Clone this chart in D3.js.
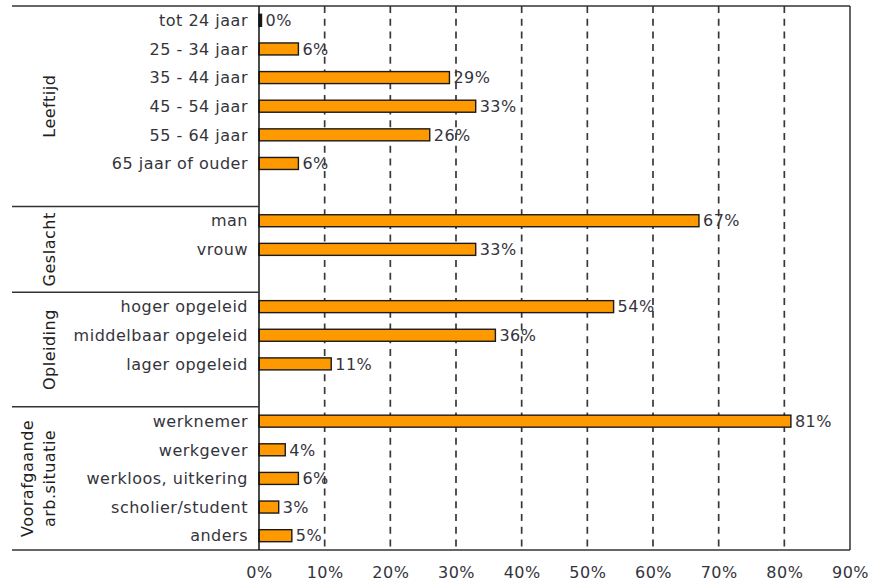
<!DOCTYPE html>
<html>
<head>
<meta charset="utf-8">
<script src="https://cdn.jsdelivr.net/npm/d3@7"></script>
<style>
  body { margin: 0; background: #fff; }
  svg text { font-family: "DejaVu Sans", Verdana, sans-serif; }
</style>
</head>
<body>
<svg id="chart" width="873" height="582"></svg>
<script>
// Profile of respondents, share per category (percent)
const groups = ["Leeftijd", "Geslacht", "Opleiding", "Voorafgaande arb.situatie"];
const groupLines = [["Leeftijd"], ["Geslacht"], ["Opleiding"], ["Voorafgaande", "arb.situatie"]];
const categories = [
  ["tot 24 jaar", "25 - 34 jaar", "35 - 44 jaar", "45 - 54 jaar", "55 - 64 jaar", "65 jaar of ouder"],
  ["man", "vrouw"],
  ["hoger opgeleid", "middelbaar opgeleid", "lager opgeleid"],
  ["werknemer", "werkgever", "werkloos, uitkering", "scholier/student", "anders"]
];
const values = [
  [0, 6, 29, 33, 26, 6],
  [67, 33],
  [54, 36, 11],
  [81, 4, 6, 3, 5]
];
const ticks = [0, 10, 20, 30, 40, 50, 60, 70, 80, 90];

const svg = d3.select("#chart");
const plotLeft = 259, plotRight = 850, plotTop = 6, plotBottom = 550, outerLeft = 12;
const lineColor = "#333";
const textColor = "#34343c";
const fontSize = 16;
const spacing = 0.5;

// Build row slots: each group gets its rows plus one blank row, except the last group
const rows = [];
const groupBounds = [];
groups.forEach((g, gi) => {
  const start = rows.length;
  categories[gi].forEach((c, ci) => rows.push({ key: gi + "-" + ci, label: c, value: values[gi][ci] }));
  if (gi < groups.length - 1) rows.push({ key: gi + "-blank", label: null, value: null });
  groupBounds.push({ name: g, lines: groupLines[gi], start, end: rows.length });
});

const y = d3.scaleBand().domain(rows.map(r => r.key)).range([plotTop, plotBottom]).paddingInner(0).paddingOuter(0);
const x = d3.scaleLinear().domain([0, 90]).range([plotLeft, plotRight]);
const step = y.step();
const barH = 12;
const barW = v => Math.max(x(v) - x(0), 2.5);   // zero bars stay visible as a thin block

// Dashed vertical gridlines
svg.append("g").selectAll("line").data(ticks.filter(t => t > 0 && t < 90)).join("line")
  .attr("x1", d => x(d)).attr("x2", d => x(d))
  .attr("y1", plotTop).attr("y2", plotBottom)
  .attr("stroke", "#383838").attr("stroke-width", 1.7)
  .attr("stroke-dasharray", "7,5.7");

// Bars
const data = rows.filter(r => r.label !== null);
svg.append("g").selectAll("rect").data(data).join("rect")
  .attr("x", x(0))
  .attr("y", d => y(d.key) + (step - barH) / 2)
  .attr("width", d => barW(d.value))
  .attr("height", barH)
  .attr("fill", d => d.value === 0 ? "#1a1a1a" : "#FF9900")
  .attr("stroke", "#1a1a1a").attr("stroke-width", 1.4);

// Value labels
svg.append("g").selectAll("text").data(data).join("text")
  .attr("x", d => x(0) + barW(d.value) + 4)
  .attr("y", d => y(d.key) + step / 2)
  .attr("dy", "0.36em")
  .attr("font-size", fontSize)
  .attr("letter-spacing", spacing)
  .attr("fill", textColor)
  .text(d => d.value + "%");

// Category labels
svg.append("g").selectAll("text").data(data).join("text")
  .attr("x", plotLeft - 11)
  .attr("y", d => y(d.key) + step / 2)
  .attr("dy", "0.36em")
  .attr("text-anchor", "end")
  .attr("font-size", fontSize)
  .attr("letter-spacing", spacing)
  .attr("fill", textColor)
  .text(d => d.label);

// Frame: top, bottom, right, axis, and group separators
const frame = svg.append("g").attr("stroke", lineColor).attr("stroke-width", 1.5);
frame.append("line").attr("x1", outerLeft).attr("x2", plotRight).attr("y1", plotTop).attr("y2", plotTop);
frame.append("line").attr("x1", outerLeft).attr("x2", plotRight).attr("y1", plotBottom).attr("y2", plotBottom);
frame.append("line").attr("x1", plotRight).attr("x2", plotRight).attr("y1", plotTop).attr("y2", plotBottom);
frame.append("line").attr("x1", plotLeft).attr("x2", plotLeft).attr("y1", plotTop).attr("y2", plotBottom).attr("stroke", "#111");
groupBounds.slice(0, -1).forEach(g => {
  const yy = plotTop + g.end * step;
  frame.append("line").attr("x1", outerLeft).attr("x2", plotLeft).attr("y1", yy).attr("y2", yy);
});

// Group labels (rotated, baseline of the last line near x = 55)
groupBounds.forEach(g => {
  const cy = plotTop + (g.start + g.end) / 2 * step;
  const t = svg.append("text")
    .attr("transform", `translate(55,${cy}) rotate(-90)`)
    .attr("text-anchor", "middle")
    .attr("font-family", "'Liberation Sans', Arial, sans-serif")
    .attr("font-size", 16)
    .attr("letter-spacing", 0.5)
    .attr("fill", "#202020");
  const n = g.lines.length;
  g.lines.forEach((l, i) => {
    t.append("tspan").attr("x", 0).attr("y", (i - (n - 1)) * 22).text(l);
  });
});

// X axis tick labels
const xAxis = d3.axisBottom(x).tickValues(ticks).tickFormat(d => d + "%").tickSize(0).tickPadding(0);
const ax = svg.append("g").attr("transform", `translate(0,${plotBottom + 28})`).call(xAxis);
ax.select(".domain").remove();
ax.selectAll("text").attr("font-size", fontSize).attr("letter-spacing", spacing).attr("fill", textColor)
  .attr("font-family", "DejaVu Sans, Verdana, sans-serif").attr("dy", "0");
</script>
</body>
</html>
